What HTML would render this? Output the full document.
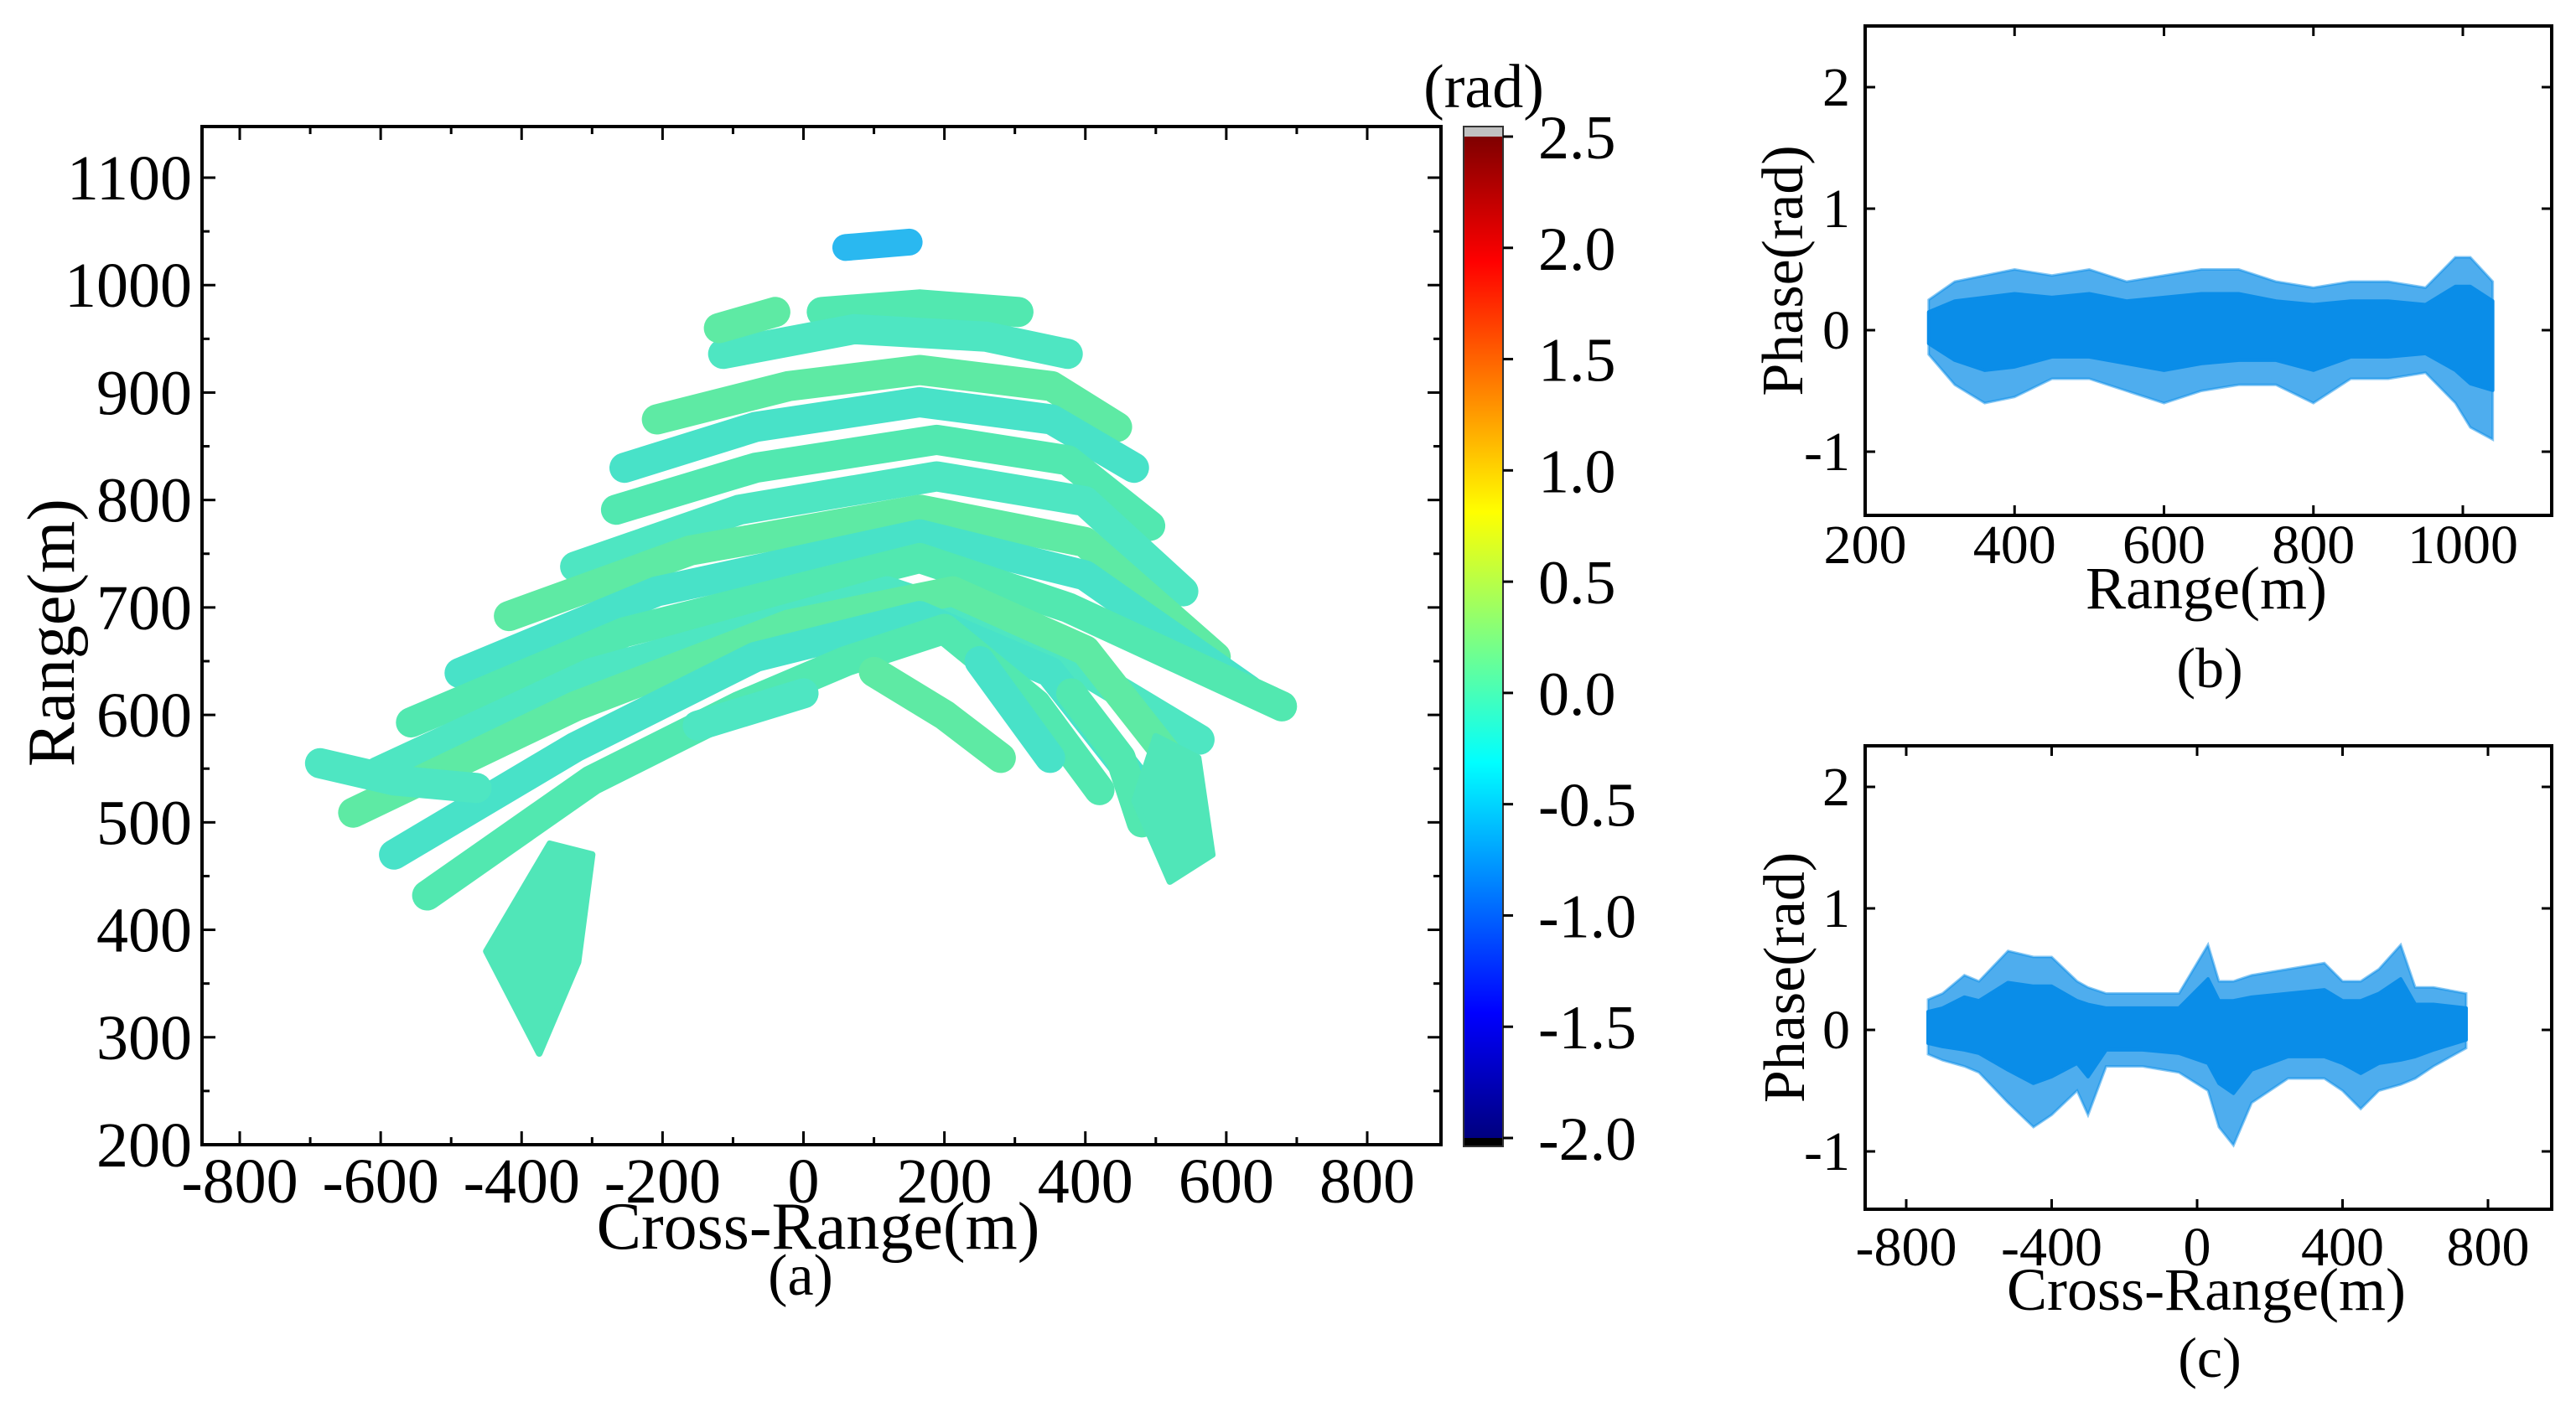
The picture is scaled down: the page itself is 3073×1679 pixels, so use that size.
<!DOCTYPE html>
<html><head><meta charset="utf-8">
<style>
html,body{margin:0;padding:0;background:#fff;}
svg{display:block;}
text{font-family:"Liberation Serif",serif;fill:#000;}
</style></head>
<body>
<svg id="fig" width="3073" height="1679" viewBox="0 0 3073 1679" xmlns="http://www.w3.org/2000/svg">
<defs>
<linearGradient id="jet" x1="0" y1="1" x2="0" y2="0">
<stop offset="0" stop-color="#00007f"/><stop offset="0.125" stop-color="#0000ff"/>
<stop offset="0.375" stop-color="#00ffff"/><stop offset="0.625" stop-color="#ffff00"/>
<stop offset="0.875" stop-color="#ff0000"/><stop offset="1" stop-color="#7f0000"/>
</linearGradient>
</defs>
<g id="pa"></g>
<g id="pb"></g>
<g id="pc"></g>
</svg>
<script>
// ---------- Panel (a) data: terrace bands (cross-range m, range m) ----------
const bandA1=[[26,975],[165,982],[305,975]];
const bandA2=[[-114,936],[72,959],[259,952],[375,936]];
const bandA3=[[-208,875],[-21,906],[165,921],[352,906],[445,868]];
const bandA4=[[-254,830],[-68,868],[165,891],[352,875],[469,830]];
const bandA5=[[-266,791],[-68,830],[189,856],[375,837],[492,776]];
const bandA6=[[-324,738],[-91,791],[189,822],[399,799],[539,715]];
const bandA7=[[-418,692],[-161,753],[165,791],[399,761],[585,654]];
const bandA8=[[-488,639],[-208,715],[165,768],[399,730],[632,623]];
const bandA9=[[-557,593],[-254,677],[165,746],[375,700],[679,608]];
const bandA10=[[-604,547],[-301,639],[119,715],[329,669],[562,577]];
const bandA11=[[-639,509],[-324,608],[-21,684],[212,715],[400,660],[520,560]];
const bandA12=[[-581,470],[-324,570],[-68,654],[165,692],[350,640],[470,540]];
const bandA13=[[-534,432],[-301,539],[-91,608],[60,650],[200,680],[330,610],[420,530]];
const bandA14=[[-686,555],[-581,539],[-464,532]];
const bandSmall1=[[100,640],[200,600],[280,560]];
const bandSmall2=[[250,650],[350,560]];
const bandSmall3=[[380,620],[450,560],[480,500]];
const bandSmall4=[[-150,590],[-50,610],[0,620]];
const bandSmall5=[[-120,960],[-40,975]];
const bands=[bandA1,bandA2,bandA3,bandA4,bandA5,bandA6,bandA7,bandA8,bandA9,bandA10,bandA11,bandA12,bandA13,bandA14,bandSmall1,bandSmall2,bandSmall3,bandSmall4,bandSmall5];
const lobeLow=[[-450,380],[-375,285],[-320,370],[-300,470],[-360,480]];
const lobeRight=[[470,520],[520,445],[580,470],[560,560],[500,580]];
const topBlob=[[60,1035],[150,1040]];
const xTicksA=[-800,-600,-400,-200,0,200,400,600,800];
const yTicksA=[200,300,400,500,600,700,800,900,1000,1100];
const cbTicks=[-2.0,-1.5,-1.0,-0.5,0.0,0.5,1.0,1.5,2.0,2.5];
// ---------- Panel (b) data ----------
const rangeB=[285,320,360,400,450,500,550,600,650,700,750,800,850,900,950,990,1010,1040];
const upperB=[0.25,0.4,0.45,0.5,0.45,0.5,0.4,0.45,0.5,0.5,0.4,0.35,0.4,0.4,0.35,0.6,0.6,0.4];
const lowerB=[-0.2,-0.45,-0.6,-0.55,-0.4,-0.4,-0.5,-0.6,-0.5,-0.45,-0.45,-0.6,-0.4,-0.4,-0.35,-0.6,-0.8,-0.9];
const xTicksB=[200,400,600,800,1000];
// ---------- Panel (c) data ----------
const crossC=[-740,-700,-640,-600,-520,-450,-400,-330,-300,-250,-150,-50,30,60,100,150,250,350,400,450,500,560,600,650,740];
const upperC=[0.25,0.3,0.45,0.4,0.65,0.6,0.6,0.4,0.35,0.3,0.3,0.3,0.7,0.4,0.4,0.45,0.5,0.55,0.4,0.4,0.5,0.7,0.35,0.35,0.3];
const lowerC=[-0.2,-0.25,-0.3,-0.35,-0.6,-0.8,-0.7,-0.5,-0.7,-0.3,-0.3,-0.35,-0.5,-0.8,-0.95,-0.6,-0.4,-0.4,-0.5,-0.65,-0.5,-0.45,-0.4,-0.3,-0.15];
const xTicksC=[-800,-400,0,400,800];
const yTicksBC=[-1,0,1,2];

const NS="http://www.w3.org/2000/svg";
function mk(p,tag,at){const e=document.createElementNS(NS,tag);for(const k in at)e.setAttribute(k,at[k]);p.appendChild(e);return e;}
function lin(d0,d1,p0,p1){return v=>p0+(v-d0)*(p1-p0)/(d1-d0);}

// ===== Panel (a) =====
const pa=document.getElementById('pa');
const ax=lin(-800,800,286,1631), ay=lin(200,1100,1366,212);
const L=241,R=1719,T=151,B=1366;
const bandColors=['#52e8b0','#4ee6c2','#5eeaa4','#48e2c8'];
bands.forEach((b,i)=>{
  const e=mk(pa,'polyline',{points:b.map(p=>ax(p[0])+','+ay(p[1])).join(' '),fill:'none',stroke:bandColors[i%4],'stroke-width':36,'stroke-linecap':'round','stroke-linejoin':'round'});
  
  
});
[lobeLow,lobeRight].forEach(lb=>{
  const e=mk(pa,'polygon',{points:lb.map(p=>ax(p[0])+','+ay(p[1])).join(' '),fill:'#50e6b8',stroke:'#50e6b8','stroke-width':8,'stroke-linejoin':'round'});
  
  
});
{const e=mk(pa,'polyline',{points:topBlob.map(p=>ax(p[0])+','+ay(p[1])).join(' '),fill:'none',stroke:'#2ab8f0','stroke-width':32,'stroke-linecap':'round'});
 
 }
{const e=mk(pa,'rect',{x:L,y:T,width:R-L,height:B-T,fill:'none',stroke:'#000','stroke-width':4});
 
 }
for(let v=-800;v<=800;v+=100){const x=ax(v),len=v%200===0?16:9;
  mk(pa,'line',{x1:x,y1:B,x2:x,y2:B-len,stroke:'#000','stroke-width':3});
  mk(pa,'line',{x1:x,y1:T,x2:x,y2:T+len,stroke:'#000','stroke-width':3});}
for(let v=200;v<=1100;v+=50){const y=ay(v),len=v%100===0?16:9;
  mk(pa,'line',{x1:L,y1:y,x2:L+len,y2:y,stroke:'#000','stroke-width':3});
  mk(pa,'line',{x1:R,y1:y,x2:R-len,y2:y,stroke:'#000','stroke-width':3});}
xTicksA.forEach(v=>{const t=mk(pa,'text',{x:ax(v),y:1435,'text-anchor':'middle','font-size':76});t.textContent=String(v);
  
  });
yTicksA.forEach(v=>{const t=mk(pa,'text',{x:229,y:ay(v)+26,'text-anchor':'end','font-size':76});t.textContent=String(v);
  
  });
{const t=mk(pa,'text',{x:976,y:1490,'text-anchor':'middle','font-size':80});t.textContent='Cross-Range(m)';
 
 }
{const t=mk(pa,'text',{x:955,y:1545,'text-anchor':'middle','font-size':70});t.textContent='(a)';
 
 }
{const t=mk(pa,'text',{x:0,y:0,'text-anchor':'middle','font-size':80,transform:'translate(88,755) rotate(-90)'});t.textContent='Range(m)';
 
 }
// colorbar
const cy=lin(-2.0,2.5,1358,163);
{const e=mk(pa,'rect',{x:1746,y:151,width:47,height:12,fill:'#c0c0c0'});
 
 
 const g=mk(pa,'rect',{x:1746,y:163,width:47,height:1195,fill:'url(#jet)'});
 
 
 const b=mk(pa,'rect',{x:1746,y:1358,width:47,height:10,fill:'#000'});
 
 
 mk(pa,'rect',{x:1746,y:151,width:47,height:1217,fill:'none',stroke:'#333','stroke-width':2});}
cbTicks.forEach(v=>{const y=cy(v);
  mk(pa,'line',{x1:1793,y1:y,x2:1805,y2:y,stroke:'#000','stroke-width':3});
  const t=mk(pa,'text',{x:1835,y:y+26,'font-size':74});t.textContent=v.toFixed(1);
  
  });
{const t=mk(pa,'text',{x:1770,y:128,'text-anchor':'middle','font-size':74});t.textContent='(rad)';
 
 }

// ===== Scatter panels =====
function scatterPanel(g,o){
  const sx=lin(o.xd0,o.xd1,o.xp0,o.xp1), sy=lin(0,1,o.y0,o.y1);
  const pts=o.xs.map((x,i)=>sx(x)+','+sy(o.up[i])).concat(o.xs.map((x,i)=>sx(x)+','+sy(o.lo[i])).reverse());
  const e=mk(g,'polygon',{points:pts.join(' '),fill:'#0a8de8','fill-opacity':0.72,stroke:'#0a8de8','stroke-opacity':0.5,'stroke-width':3});
  
  
  const core=o.xs.map((x,i)=>sx(x)+','+sy(o.up[i]*0.6)).concat(o.xs.map((x,i)=>sx(x)+','+sy(o.lo[i]*0.55)).reverse());
  const c=mk(g,'polygon',{points:core.join(' '),fill:'#0a8de8',stroke:'#0a8de8','stroke-width':4,'stroke-linejoin':'round'});
  
  
  const f=mk(g,'rect',{x:o.L,y:o.T,width:o.R-o.L,height:o.B-o.T,fill:'none',stroke:'#000','stroke-width':4});
  
  
  o.xt.forEach(v=>{const x=sx(v);
    mk(g,'line',{x1:x,y1:o.B,x2:x,y2:o.B-12,stroke:'#000','stroke-width':3});
    mk(g,'line',{x1:x,y1:o.T,x2:x,y2:o.T+12,stroke:'#000','stroke-width':3});
    const t=mk(g,'text',{x:x,y:o.xlY,'text-anchor':'middle','font-size':66});t.textContent=String(v);
    
    });
  yTicksBC.forEach(v=>{const y=sy(v);
    mk(g,'line',{x1:o.L,y1:y,x2:o.L+12,y2:y,stroke:'#000','stroke-width':3});
    mk(g,'line',{x1:o.R,y1:y,x2:o.R-12,y2:y,stroke:'#000','stroke-width':3});
    const t=mk(g,'text',{x:o.L-18,y:y+22,'text-anchor':'end','font-size':66});t.textContent=String(v);
    
    });
  const xt=mk(g,'text',{x:2632,y:o.xtY,'text-anchor':'middle','font-size':72});xt.textContent=o.xtitle;
  
  
  const yt=mk(g,'text',{x:0,y:0,'text-anchor':'middle','font-size':70,transform:'translate('+o.ytX+','+((o.T+o.B)/2)+') rotate(-90)'});yt.textContent='Phase(rad)';
  
  
  const pl=mk(g,'text',{x:2636,y:o.plY,'text-anchor':'middle','font-size':68});pl.textContent=o.pl;
  
  
}
scatterPanel(document.getElementById('pb'),{xs:rangeB,up:upperB,lo:lowerB,xd0:200,xd1:1000,xp0:2225,xp1:2938,y0:394,y1:249,
  L:2225,R:3044,T:31,B:615,xt:xTicksB,xlY:672,xtY:726,xtitle:'Range(m)',ytX:2150,plY:820,pl:'(b)'});
scatterPanel(document.getElementById('pc'),{xs:crossC,up:upperC,lo:lowerC,xd0:-800,xd1:800,xp0:2274,xp1:2968,y0:1229,y1:1084,
  L:2225,R:3044,T:890,B:1443,xt:xTicksC,xlY:1510,xtY:1563,xtitle:'Cross-Range(m)',ytX:2152,plY:1643,pl:'(c)'});
</script>
</body></html>
